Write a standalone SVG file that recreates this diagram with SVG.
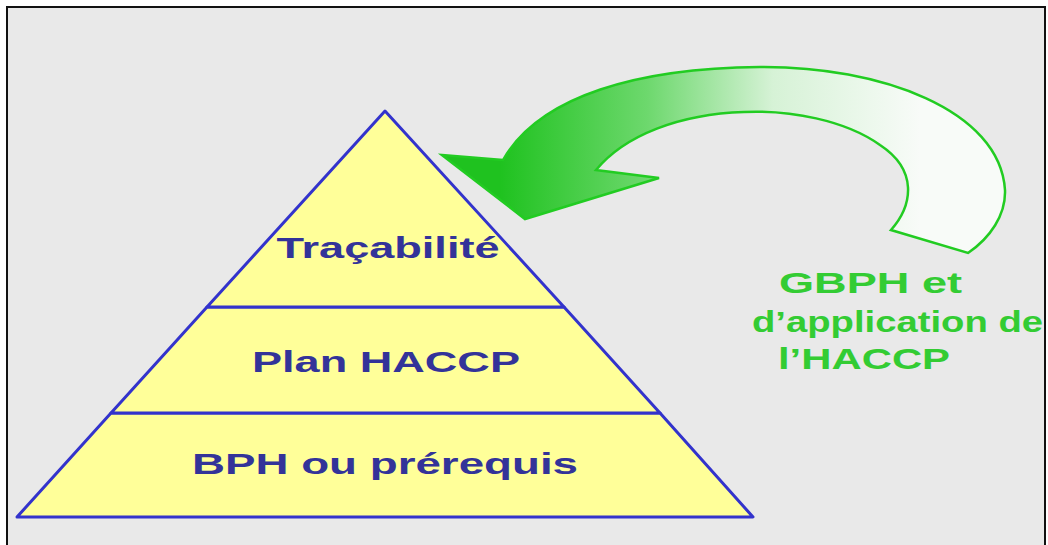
<svg xmlns="http://www.w3.org/2000/svg" width="1048" height="545" viewBox="0 0 1048 545">
  <defs>
    <linearGradient id="arrowGrad" gradientUnits="userSpaceOnUse" x1="500" y1="0" x2="920" y2="0">
      <stop offset="0" stop-color="#1fc21f"/>
      <stop offset="0.35" stop-color="#6dd86d"/>
      <stop offset="0.65" stop-color="#d6f2d6"/>
      <stop offset="1" stop-color="#f8fbf8"/>
    </linearGradient>
  </defs>
  <style>
    .layer { fill: #ffff99; stroke: #3333cc; stroke-width: 3; stroke-linejoin: round; }
    .lbl { font-family: "Liberation Sans", Arial, sans-serif; font-weight: bold; fill: #333399; }
    .green { font-family: "Liberation Sans", Arial, sans-serif; font-weight: bold; fill: #33cc33; font-size: 30px; }
  </style>
  <rect x="0" y="0" width="1048" height="545" fill="#ffffff"/>
  <rect x="8" y="8" width="1037" height="537" fill="#e9e9e9"/>
  <path d="M7 545 V7 H1045 V545" fill="none" stroke="#111111" stroke-width="2"/>

  <g id="layer-bph">
    <polygon class="layer" points="111,413 660,413 753,517 17,517"/>
    <text class="lbl" x="385" y="474" font-size="30" text-anchor="middle" textLength="386" lengthAdjust="spacingAndGlyphs">BPH ou prérequis</text>
  </g>
  <g id="layer-haccp">
    <polygon class="layer" points="207,307 564,307 660,413 111,413"/>
    <text class="lbl" x="386" y="372" font-size="29" text-anchor="middle" textLength="268" lengthAdjust="spacingAndGlyphs">Plan HACCP</text>
  </g>
  <g id="layer-tracabilite">
    <polygon class="layer" points="385,111 564,307 207,307"/>
    <text class="lbl" x="388" y="258" font-size="30" text-anchor="middle" textLength="223" lengthAdjust="spacingAndGlyphs">Traçabilité</text>
  </g>

  <g id="connectors">
    <path id="curved-arrow" d="M442,155 L503,160 C540,95 640,68 760,67 C880,66 1000,110 1005,190 C1006,215 990,238 968,253 L891,230 C913,205 918,170 880,145 C845,120 790,110 744,112 C680,114 625,135 596,170 L659,178 L525,219 Z" fill="url(#arrowGrad)" stroke="#22cc22" stroke-width="2.5" stroke-linejoin="miter"/>
  </g>

  <g id="label-gbph">
    <text class="green" x="779" y="293" textLength="183" lengthAdjust="spacingAndGlyphs">GBPH et</text>
    <text class="green" x="752" y="332" textLength="291" lengthAdjust="spacingAndGlyphs">d’application de</text>
    <text class="green" x="778" y="369" textLength="172" lengthAdjust="spacingAndGlyphs">l’HACCP</text>
  </g>
</svg>
